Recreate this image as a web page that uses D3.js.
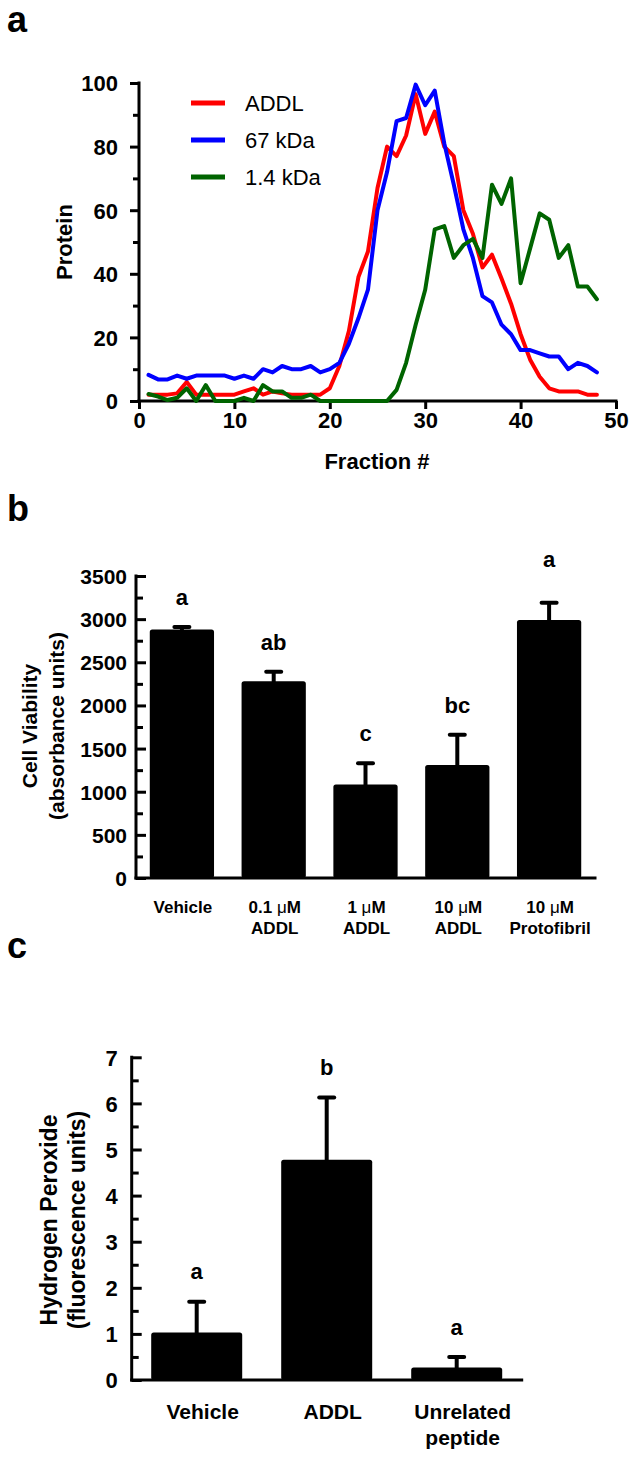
<!DOCTYPE html>
<html>
<head>
<meta charset="utf-8">
<script src="https://cdn.jsdelivr.net/npm/d3@7"></script>
<style>
  html, body { margin: 0; padding: 0; background: #fff; }
  svg text { font-family: "Liberation Sans", Arial, sans-serif; fill: #000; }
</style>
</head>
<body>
<svg id="chart" width="638" height="1457"></svg>
<script>
// ---------- Panel a data ----------
const fractions = [1,2,3,4,5,6,7,8,9,10,11,12,13,14,15,16,17,18,19,20,21,22,23,24,25,26,27,28,29,30,31,32,33,34,35,36,37,38,39,40,41,42,43,44,45,46,47,48];
const addl = [2,2,2,2.4,6,2,2,2,2,2, 3,4,2,3,2.4,2,2,2,2,4, 11,22,39,47,67,80,77,83.5,96.5,84, 91,80,77,60,52.6,42,46,38.5,30.6,21, 13,7.6,4,3,3,3,2,2];
const kda67 = [8.2,6.8,6.8,8,7,8,8,8,8,7, 8,7,10,9,11,10,10,11,9,10, 12,18,26,35,60,72,88,89,99.5,93, 97.6,81,68,54,45,33,31,24,21,16, 16,15,14,14,10,12,11,9];
const kda14 = [2.2,1.4,0.3,1,4,0,5,0,0,0, 1,0,5,3,3,1,1,2,0,0, 0,0,0,0,0,0,3.5,12,24,35, 54,55,45,49,51,45,68,62,70,37, 48,59,57,45,49,36,36,32];
const seriesNames = ["ADDL", "67 kDa", "1.4 kDa"];
const seriesColors = ["#ff0000", "#0000ff", "#006400"];
const aXTicks = [0,10,20,30,40,50];
const aYTicks = [0,20,40,60,80,100];
const aYMinor = [10,30,50,70,90];

// ---------- Panel b data ----------
const bCats = ["Vehicle", "0.1 μM ADDL", "1 μM ADDL", "10 μM ADDL", "10 μM Protofibril"];
const bLine1 = [["Vehicle"], ["0.1 ", "μ", "M"], ["1 ", "μ", "M"], ["10 ", "μ", "M"], ["10 ", "μ", "M"]];
const bLine2 = ["", "ADDL", "ADDL", "ADDL", "Protofibril"];
const bMeans = [2880, 2280, 1085, 1310, 2990];
const bErrs = [30, 110, 245, 350, 200];
const bLetters = ["a", "ab", "c", "bc", "a"];
const bYTicks = [0,500,1000,1500,2000,2500,3000,3500];
const bYMinor = [250,750,1250,1750,2250,2750,3250];

// ---------- Panel c data ----------
const cCats = ["Vehicle", "ADDL", "Unrelated peptide"];
const cLine1 = ["Vehicle", "ADDL", "Unrelated"];
const cLine2 = ["", "", "peptide"];
const cMeans = [1.03, 4.78, 0.27];
const cErrs = [0.67, 1.35, 0.23];
const cLetters = ["a", "b", "a"];
const cYTicks = [0,1,2,3,4,5,6,7];
const cYMinor = [0.5,1.5,2.5,3.5,4.5,5.5,6.5];

const svg = d3.select("#chart");
svg.append("rect").attr("width", 638).attr("height", 1457).attr("fill", "#fff");

function styleAxis(g, fontSize) {
  g.selectAll(".domain").remove();
  g.selectAll(".tick line").attr("stroke", "#000").attr("stroke-width", 3);
  g.selectAll(".tick text")
    .attr("font-size", fontSize).attr("font-weight", "bold")
    .style("font-family", '"Liberation Sans", Arial, sans-serif').attr("fill", "#000");
}

// panel letters
[["a", 32], ["b", 521], ["c", 958]].forEach(([t, y]) => {
  svg.append("text").attr("x", 7).attr("y", y).attr("font-size", 36).attr("font-weight", "bold").text(t);
});

// ================= Panel a =================
{
  const x = d3.scaleLinear([0, 50], [139, 616]);
  const y = d3.scaleLinear([0, 100], [401, 83]);
  const g = svg.append("g");

  const gm = g.append("g").attr("transform", `translate(${x(0)},0)`)
    .call(d3.axisLeft(y).tickValues(aYMinor).tickSize(6).tickFormat(""));
  styleAxis(gm, 22);
  const gy = g.append("g").attr("transform", `translate(${x(0)},0)`)
    .call(d3.axisLeft(y).tickValues(aYTicks).tickSize(9).tickPadding(12).tickFormat(d3.format("d")));
  styleAxis(gy, 22);
  gy.selectAll(".tick text").attr("dy", "0.36em");
  const gx = g.append("g").attr("transform", `translate(0,${y(0)})`)
    .call(d3.axisBottom(x).tickValues(aXTicks).tickSize(8).tickPadding(3).tickFormat(d3.format("d")));
  styleAxis(gx, 22);
  gx.selectAll(".tick text").attr("dy", "0.71em");

  g.append("line").attr("x1", x(0)).attr("x2", x(0)).attr("y1", y(100)).attr("y2", y(0))
    .attr("stroke", "#000").attr("stroke-width", 3).attr("stroke-linecap", "square");
  g.append("line").attr("x1", x(0)).attr("x2", x(50)).attr("y1", y(0)).attr("y2", y(0))
    .attr("stroke", "#000").attr("stroke-width", 3).attr("stroke-linecap", "square");

  const series = [addl, kda67, kda14];
  const line = d3.line().x((d, i) => x(fractions[i])).y(d => y(d));
  series.forEach((s, k) => {
    g.append("path").datum(s).attr("d", line).attr("fill", "none")
      .attr("stroke", seriesColors[k]).attr("stroke-width", 4)
      .attr("stroke-linejoin", "round").attr("stroke-linecap", "round");
  });

  seriesNames.forEach((n, k) => {
    const ly = 103 + k * 37;
    g.append("line").attr("x1", 191).attr("x2", 225).attr("y1", ly).attr("y2", ly)
      .attr("stroke", seriesColors[k]).attr("stroke-width", 5);
    g.append("text").attr("x", 245).attr("y", ly + 8).attr("font-size", 22).text(n);
  });

  g.append("text").attr("transform", `translate(64,242) rotate(-90)`)
    .attr("text-anchor", "middle").attr("dy", "0.35em")
    .attr("font-size", 22).attr("font-weight", "bold").text("Protein");
  g.append("text").attr("x", 377).attr("y", 469).attr("text-anchor", "middle")
    .attr("font-size", 22).attr("font-weight", "bold").text("Fraction #");
}

// ============ bar chart helper ============
function barPanel(opts) {
  const { cats, means, errs, letters, yDomain, yRange, xRange, yTicks, yMinor,
          tickFont, letterGaps, drawLabels, title1, title2, titleX1, titleX2, titleY, titleFont } = opts;
  const g = svg.append("g");
  const x = d3.scaleBand(cats, xRange).paddingInner(0.3).paddingOuter(0.15);
  const y = d3.scaleLinear(yDomain, yRange);

  const gm = g.append("g").attr("transform", `translate(${xRange[0]},0)`)
    .call(d3.axisLeft(y).tickValues(yMinor).tickSize(-7).tickFormat(""));
  styleAxis(gm, tickFont);
  const gy = g.append("g").attr("transform", `translate(${xRange[0]},0)`)
    .call(d3.axisLeft(y).tickValues(yTicks).tickSize(-10).tickPadding(opts.tickPad).tickFormat(d3.format("d")));
  styleAxis(gy, tickFont);
  gy.selectAll(".tick text").attr("dy", "0.36em");

  g.selectAll("rect.bar").data(cats).join("rect").attr("class", "bar")
    .attr("x", d => x(d)).attr("width", x.bandwidth())
    .attr("y", (d, i) => y(means[i])).attr("height", (d, i) => y(0) - y(means[i]))
    .attr("rx", 2.5).attr("fill", "#000");

  cats.forEach((c, i) => {
    const cx = x(c) + x.bandwidth() / 2;
    const top = y(means[i] + errs[i]);
    g.append("line").attr("x1", cx).attr("x2", cx).attr("y1", y(means[i]) + 2).attr("y2", top)
      .attr("stroke", "#000").attr("stroke-width", 4);
    g.append("line").attr("x1", cx - 7.5).attr("x2", cx + 7.5).attr("y1", top).attr("y2", top)
      .attr("stroke", "#000").attr("stroke-width", 4).attr("stroke-linecap", "round");
    g.append("text").attr("x", cx).attr("y", top - letterGaps[i]).attr("text-anchor", "middle")
      .attr("font-size", 22).attr("font-weight", "bold").text(letters[i]);
  });

  g.append("line").attr("x1", xRange[0]).attr("x2", xRange[0]).attr("y1", y(yDomain[1])).attr("y2", y(0))
    .attr("stroke", "#000").attr("stroke-width", 3).attr("stroke-linecap", "square");
  g.append("line").attr("x1", xRange[0]).attr("x2", xRange[1]).attr("y1", y(0)).attr("y2", y(0))
    .attr("stroke", "#000").attr("stroke-width", 3).attr("stroke-linecap", "square");

  drawLabels(g, x);

  g.append("text").attr("transform", `translate(${titleX1},${titleY}) rotate(-90)`)
    .attr("text-anchor", "middle").attr("dy", "0.35em")
    .attr("font-size", titleFont).attr("font-weight", "bold").text(title1);
  g.append("text").attr("transform", `translate(${titleX2},${titleY}) rotate(-90)`)
    .attr("text-anchor", "middle").attr("dy", "0.35em")
    .attr("font-size", titleFont).attr("font-weight", "bold").text(title2);
}

// ================= Panel b =================
barPanel({
  cats: bCats, means: bMeans, errs: bErrs, letters: bLetters,
  yDomain: [0, 3500], yRange: [878, 576], xRange: [136, 595],
  yTicks: bYTicks, yMinor: bYMinor, tickFont: 21, tickPad: 9,
  letterGaps: [22, 22, 22, 22, 36],
  title1: "Cell Viability", title2: "(absorbance units)", titleX1: 30, titleX2: 57, titleY: 726, titleFont: 21,
  drawLabels: (g, x) => {
    bCats.forEach((c, i) => {
      const cx = x(c) + x.bandwidth() / 2 + 1;
      const t = g.append("text").attr("x", cx).attr("y", 913).attr("text-anchor", "middle")
        .attr("font-size", 17).attr("font-weight", "bold");
      bLine1[i].forEach(part => {
        const ts = t.append("tspan").text(part);
        if (part === "μ") ts.attr("font-weight", "normal");
      });
      if (bLine2[i]) {
        g.append("text").attr("x", cx).attr("y", 934).attr("text-anchor", "middle")
          .attr("font-size", 17).attr("font-weight", "bold").text(bLine2[i]);
      }
    });
  }
});

// ================= Panel c =================
barPanel({
  cats: cCats, means: cMeans, errs: cErrs, letters: cLetters,
  yDomain: [0, 7], yRange: [1380, 1057.3], xRange: [131.7, 521.7],
  yTicks: cYTicks, yMinor: cYMinor, tickFont: 22, tickPad: 14,
  letterGaps: [23, 22, 22],
  title1: "Hydrogen Peroxide", title2: "(fluorescence units)", titleX1: 49, titleX2: 77, titleY: 1220, titleFont: 23,
  drawLabels: (g, x) => {
    cCats.forEach((c, i) => {
      const cx = x(c) + x.bandwidth() / 2 + 6;
      g.append("text").attr("x", cx).attr("y", 1419).attr("text-anchor", "middle")
        .attr("font-size", 21).attr("font-weight", "bold").text(cLine1[i]);
      if (cLine2[i]) {
        g.append("text").attr("x", cx).attr("y", 1445).attr("text-anchor", "middle")
          .attr("font-size", 21).attr("font-weight", "bold").text(cLine2[i]);
      }
    });
  }
});
</script>
</body>
</html>
